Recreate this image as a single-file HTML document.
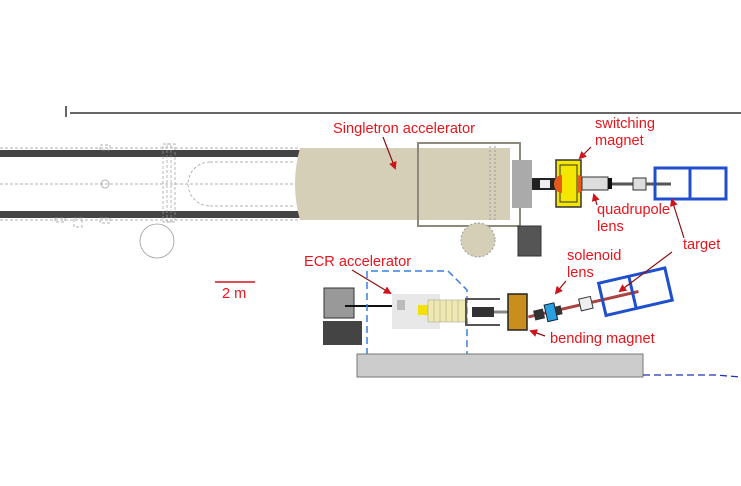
<!DOCTYPE html>
<html><head><meta charset="utf-8"><style>
html,body{margin:0;padding:0;background:#fff}
svg{display:block}
text{font-family:"Liberation Sans",Arial,sans-serif;fill:#e8141c;font-size:14.6px}
</style></head><body>
<svg width="741" height="486" viewBox="0 0 741 486" xmlns="http://www.w3.org/2000/svg">
<defs>
<marker id="ar" markerWidth="8" markerHeight="8" refX="6" refY="4" orient="auto" markerUnits="userSpaceOnUse"><path d="M0,0 L8,4 L0,8 z" fill="#d0141c"/></marker>
</defs>
<line x1="66" y1="106" x2="66" y2="117" stroke="#333" stroke-width="1.5"/>
<line x1="70" y1="113" x2="741" y2="113" stroke="#333" stroke-width="1.5"/>
<rect x="0" y="150" width="300" height="7" fill="#444"/>
<rect x="0" y="211" width="300" height="7" fill="#444"/>
<g stroke="#999" stroke-width="0.7" fill="none" stroke-dasharray="3,2">
<line x1="0" y1="148" x2="300" y2="148"/>
<line x1="0" y1="220" x2="300" y2="220"/>
<line x1="0" y1="184" x2="295" y2="184"/>
<rect x="163" y="144" width="12" height="78"/>
<rect x="167" y="144" width="4" height="78"/>
<path d="M210,162 L295,162 M210,206 L295,206 M210,162 A22,22 0 0 0 210,206"/>
<rect x="100" y="145" width="10" height="5"/>
<rect x="100" y="218" width="10" height="5"/>
<rect x="55" y="218" width="10" height="4"/>
<rect x="74" y="218" width="8" height="9"/>
</g>
<circle cx="105" cy="184" r="4" fill="none" stroke="#999" stroke-width="0.7"/>
<circle cx="157" cy="241" r="17" fill="none" stroke="#999" stroke-width="0.8"/>
<path d="M300,148 L510,148 L510,220 L300,220 Q290,184 300,148 z" fill="#d6cfb8"/>
<rect x="418" y="143" width="102" height="83" fill="none" stroke="#8d8a7c" stroke-width="2"/>
<line x1="490" y1="146" x2="490" y2="222" stroke="#999" stroke-width="1" stroke-dasharray="2,2"/>
<line x1="495" y1="146" x2="495" y2="222" stroke="#999" stroke-width="1" stroke-dasharray="2,2"/>
<rect x="512" y="160" width="20" height="48" fill="#aaa"/>
<rect x="532" y="178" width="24" height="12" fill="#222"/>
<rect x="540" y="180" width="10" height="8" fill="#eee"/>
<circle cx="478" cy="240" r="17" fill="#d6cfb8" stroke="#999" stroke-dasharray="2,2"/>
<rect x="518" y="226" width="23" height="30" fill="#555" stroke="#333"/>
<rect x="556" y="160" width="25" height="47" fill="#f5e600" stroke="#333" stroke-width="1.5"/>
<rect x="560" y="165" width="17" height="37" fill="#f5e600" stroke="#333" stroke-width="1"/>
<path d="M562,175 A8,9 0 0 0 562,193 z M577,175 A8,9 0 0 1 577,193 z" fill="#e55a1a"/>
<rect x="582" y="177" width="26" height="13" fill="#ddd" stroke="#333"/>
<rect x="608" y="178" width="4" height="11" fill="#111"/>
<line x1="612" y1="184" x2="633" y2="184" stroke="#555" stroke-width="3"/>
<rect x="633" y="178" width="13" height="12" fill="#ddd" stroke="#333"/>
<line x1="646" y1="184" x2="671" y2="184" stroke="#555" stroke-width="3"/>
<rect x="655" y="168" width="71" height="31" fill="none" stroke="#1f4fcc" stroke-width="3"/>
<line x1="690" y1="168" x2="690" y2="199" stroke="#1f4fcc" stroke-width="3"/>
<text x="333" y="133">Singletron accelerator</text>
<line x1="383" y1="137" x2="395" y2="168" stroke="#8b1010" stroke-width="1.2" marker-end="url(#ar)"/>
<text x="595" y="128">switching</text>
<text x="595" y="145">magnet</text>
<line x1="591" y1="147" x2="580" y2="158" stroke="#8b1010" stroke-width="1.2" marker-end="url(#ar)"/>
<text x="597" y="214">quadrupole</text>
<text x="597" y="231">lens</text>
<line x1="597" y1="205" x2="594" y2="195" stroke="#8b1010" stroke-width="1.2" marker-end="url(#ar)"/>
<text x="683" y="249">target</text>
<line x1="684" y1="238" x2="672" y2="200" stroke="#8b1010" stroke-width="1.2" marker-end="url(#ar)"/>
<line x1="215" y1="282" x2="255" y2="282" stroke="#d0141c" stroke-width="1.5"/>
<text x="222" y="298">2 m</text>
<rect x="324" y="288" width="30" height="30" fill="#999" stroke="#333"/>
<rect x="323" y="321" width="39" height="24" fill="#444"/>
<line x1="345" y1="306" x2="392" y2="306" stroke="#111" stroke-width="2"/>
<path d="M367,355 L367,271 L448,271 L467,290 L467,355" fill="none" stroke="#3a7ee0" stroke-width="1.5" stroke-dasharray="7,4"/>
<rect x="392" y="294" width="48" height="35" fill="#e8e8e8"/>
<rect x="397" y="300" width="8" height="10" fill="#bbb"/>
<rect x="418" y="305" width="10" height="10" fill="#f1e000"/>
<rect x="428" y="300" width="39" height="22" fill="#efe9b0" stroke="#aa9" stroke-width="0.6"/>
<g stroke="#aa9" stroke-width="0.6"><line x1="434" y1="300" x2="434" y2="322"/><line x1="440" y1="300" x2="440" y2="322"/><line x1="446" y1="300" x2="446" y2="322"/><line x1="452" y1="300" x2="452" y2="322"/><line x1="458" y1="300" x2="458" y2="322"/></g>
<path d="M500,299 L466,299 L466,325 L500,325" fill="none" stroke="#555" stroke-width="2"/>
<rect x="472" y="307" width="22" height="10" fill="#333"/>
<line x1="494" y1="312" x2="508" y2="312" stroke="#888" stroke-width="3"/>
<rect x="508" y="294" width="19" height="36" fill="#c98e1b" stroke="#222" stroke-width="1.5"/>
<g transform="rotate(-13 580 305)">
<line x1="527" y1="305" x2="640" y2="305" stroke="#a44" stroke-width="3"/>
<rect x="533" y="300" width="10" height="10" fill="#333"/>
<rect x="545" y="297" width="10" height="17" fill="#2aa0e0" stroke="#123"/>
<rect x="555" y="301" width="6" height="9" fill="#333"/>
<rect x="580" y="299" width="12" height="12" fill="#eee" stroke="#333"/>
<rect x="603" y="288" width="68" height="33" fill="none" stroke="#1f4fcc" stroke-width="3"/>
<line x1="634" y1="288" x2="634" y2="321" stroke="#1f4fcc" stroke-width="3"/>
</g>
<rect x="357" y="354" width="286" height="23" fill="#cccccc" stroke="#777"/>
<path d="M643,375 L715,375 L741,377" fill="none" stroke="#2233bb" stroke-width="1.3" stroke-dasharray="7,4"/>
<text x="304" y="266">ECR accelerator</text>
<line x1="352" y1="270" x2="390" y2="293" stroke="#8b1010" stroke-width="1.2" marker-end="url(#ar)"/>
<text x="567" y="260">solenoid</text>
<text x="567" y="277">lens</text>
<line x1="566" y1="281" x2="556" y2="293" stroke="#8b1010" stroke-width="1.2" marker-end="url(#ar)"/>
<line x1="672" y1="252" x2="620" y2="291" stroke="#8b1010" stroke-width="1.2" marker-end="url(#ar)"/>
<text x="550" y="343">bending magnet</text>
<line x1="545" y1="336" x2="531" y2="331" stroke="#8b1010" stroke-width="1.2" marker-end="url(#ar)"/>
</svg>
</body></html>
